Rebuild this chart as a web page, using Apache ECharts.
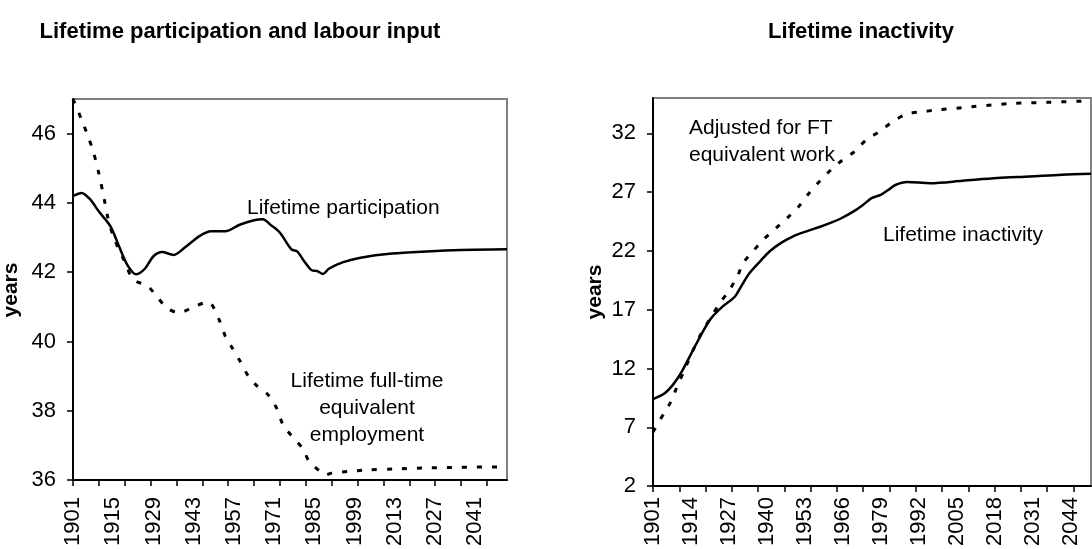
<!DOCTYPE html>
<html>
<head>
<meta charset="utf-8">
<script src="https://cdn.jsdelivr.net/npm/echarts@6/dist/echarts.min.js"></script>
<style>
    html, body { margin: 0; padding: 0; background: #fff; }
    #chart { width: 1092px; height: 549px; }
</style>
</head>
<body>
<div id="chart"></div>
<script>
// left panel: lifetime participation (solid)
const partYears = [1901, 1904, 1907, 1910, 1914, 1917, 1920, 1923, 1926, 1929, 1932, 1936, 1940, 1945, 1949, 1954, 1959, 1964, 1967, 1970, 1973, 1977, 1979, 1981, 1984, 1986, 1988, 1990, 1995, 2001, 2012, 2024, 2036, 2052];
const partValues = [44.2, 44.29, 44.1, 43.75, 43.33, 42.75, 42.2, 41.94, 42.1, 42.46, 42.58, 42.5, 42.72, 43.04, 43.18, 43.18, 43.37, 43.5, 43.53, 43.35, 43.14, 42.66, 42.6, 42.37, 42.06, 42.03, 41.95, 42.1, 42.29, 42.42, 42.54, 42.6, 42.64, 42.66];

// left panel: full-time equivalent employment (dashed)
const fteYears = [1901, 1904, 1906, 1908, 1910, 1912, 1913, 1915, 1919, 1922, 1927, 1930, 1934, 1938, 1943, 1948, 1952, 1954, 1956, 1959, 1962, 1965, 1969, 1972, 1974, 1977, 1981, 1983, 1987, 1989, 1991, 1997, 2003, 2013, 2024, 2036, 2052];
const fteValues = [47.0, 46.4, 45.97, 45.5, 44.85, 44.05, 43.62, 43.04, 42.3, 41.79, 41.6, 41.31, 40.95, 40.83, 41.0, 41.14, 40.6, 40.15, 39.87, 39.45, 39.0, 38.72, 38.45, 38.05, 37.61, 37.28, 36.9, 36.56, 36.25, 36.15, 36.2, 36.25, 36.29, 36.32, 36.35, 36.37, 36.38];

// right panel: lifetime inactivity (solid)
const inactYears = [1901, 1905, 1908, 1911, 1915, 1918, 1921, 1925, 1929, 1931, 1934, 1938, 1941, 1945, 1949, 1954, 1958, 1962, 1965, 1970, 1973, 1976, 1979, 1982, 1984, 1988, 1996, 2007, 2019, 2030, 2041, 2051];
const inactValues = [9.4, 9.9, 10.67, 11.8, 13.7, 15.1, 16.3, 17.3, 18.1, 18.9, 20.1, 21.2, 21.97, 22.7, 23.24, 23.7, 24.03, 24.4, 24.71, 25.4, 25.92, 26.5, 26.77, 27.25, 27.6, 27.85, 27.76, 27.96, 28.19, 28.32, 28.47, 28.55];

// right panel: adjusted for FT equivalent work (dashed)
const adjYears = [1901, 1905, 1907, 1909, 1912, 1915, 1918, 1921, 1924, 1927, 1930, 1932, 1935, 1939, 1943, 1947, 1951, 1954, 1958, 1962, 1966, 1970, 1974, 1979, 1983, 1988, 1993, 1998, 2010, 2024, 2036, 2051];
const adjValues = [6.6, 8.3, 9.12, 10.3, 12.0, 13.7, 15.2, 16.4, 17.6, 18.6, 19.9, 21.0, 21.9, 23.0, 23.9, 24.8, 25.8, 26.77, 27.9, 28.9, 29.74, 30.44, 31.43, 32.22, 32.98, 33.64, 33.83, 33.97, 34.25, 34.54, 34.63, 34.76];

// axis labels and ticks
const leftLabelYears = [1901, 1915, 1929, 1943, 1957, 1971, 1985, 1999, 2013, 2027, 2041];
const rightLabelYears = [1901, 1914, 1927, 1940, 1953, 1966, 1979, 1992, 2005, 2018, 2031, 2044];
const tickYears = [1901, 1910, 1919, 1928, 1937, 1946, 1955, 1964, 1973, 1982, 1991, 2000, 2009, 2018, 2027, 2036, 2045];
const leftYTicks = [36, 38, 40, 42, 44, 46];
const rightYTicks = [2, 7, 12, 17, 22, 27, 32];

const FONT = "'Liberation Sans', Arial, sans-serif";

const pairs = (xs, ys) => xs.map((x, i) => [x, ys[i]]);

const xAxisOf = (grid, max, labels, margin) => ({
    gridIndex: grid,
    type: 'value',
    min: 1901,
    max: max,
    axisLine: { show: true, onZero: false, lineStyle: { color: '#000', width: 2 } },
    axisTick: { show: true, length: 6, customValues: tickYears, lineStyle: { color: '#000', width: 1.5 } },
    axisLabel: {
        customValues: labels, rotate: 90, margin: margin, fontSize: 22,
        color: '#000', fontFamily: FONT, formatter: v => String(v)
    },
    splitLine: { show: false }
});

const yAxisOf = (grid, min, max, ticks) => ({
    gridIndex: grid,
    type: 'value',
    min: min,
    max: max,
    axisLine: { show: true, lineStyle: { color: '#000', width: 2 } },
    axisTick: { show: true, length: 6, customValues: ticks, lineStyle: { color: '#000', width: 1.5 } },
    axisLabel: { customValues: ticks, margin: 17, fontSize: 22, color: '#000', fontFamily: FONT },
    splitLine: { show: false }
});

const lineOf = (axis, xs, ys, dashed) => ({
    type: 'line',
    xAxisIndex: axis,
    yAxisIndex: axis,
    data: pairs(xs, ys),
    smooth: 0.3,
    symbol: 'none',
    lineStyle: { color: '#000', width: dashed ? 3 : 2.5, type: dashed ? [5, 10] : 'solid' }
});

const textOf = (x, y, text, opts) => Object.assign({
    type: 'text',
    x: x,
    y: y,
    style: Object.assign({
        text: text, fill: '#000', fontSize: 21, fontFamily: FONT,
        align: 'left', verticalAlign: 'middle'
    }, opts && opts.style)
}, opts && opts.el);

const chart = echarts.init(document.getElementById('chart'));
chart.setOption({
    animation: false,
    backgroundColor: '#fff',
    grid: [
        { left: 73, top: 99, width: 434, height: 382, show: true, borderColor: '#808080', borderWidth: 2, containLabel: false },
        { left: 653, top: 98, width: 438, height: 389, show: true, borderColor: '#808080', borderWidth: 2, containLabel: false }
    ],
    xAxis: [xAxisOf(0, 2052, leftLabelYears, 17), xAxisOf(1, 2051, rightLabelYears, 11)],
    yAxis: [yAxisOf(0, 36, 47, leftYTicks), yAxisOf(1, 2, 35, rightYTicks)],
    series: [
        lineOf(0, partYears, partValues, false),
        lineOf(0, fteYears, fteValues, true),
        lineOf(1, inactYears, inactValues, false),
        lineOf(1, adjYears, adjValues, true)
    ],
    graphic: [
        textOf(240, 32, 'Lifetime participation and labour input', { style: { align: 'center', fontSize: 22, fontWeight: 'bold' } }),
        textOf(861, 32, 'Lifetime inactivity', { style: { align: 'center', fontSize: 22, fontWeight: 'bold' } }),
        textOf(11, 290, 'years', { style: { align: 'center', fontWeight: 'bold' }, el: { rotation: Math.PI / 2 } }),
        textOf(595, 292, 'years', { style: { align: 'center', fontWeight: 'bold' }, el: { rotation: Math.PI / 2 } }),
        textOf(247, 208, 'Lifetime participation'),
        textOf(367, 408, 'Lifetime full-time\nequivalent\nemployment', { style: { align: 'center', lineHeight: 27 } }),
        textOf(689, 142, 'Adjusted for FT\nequivalent work', { style: { lineHeight: 27 } }),
        textOf(883, 235, 'Lifetime inactivity')
    ]
});
</script>
</body>
</html>
